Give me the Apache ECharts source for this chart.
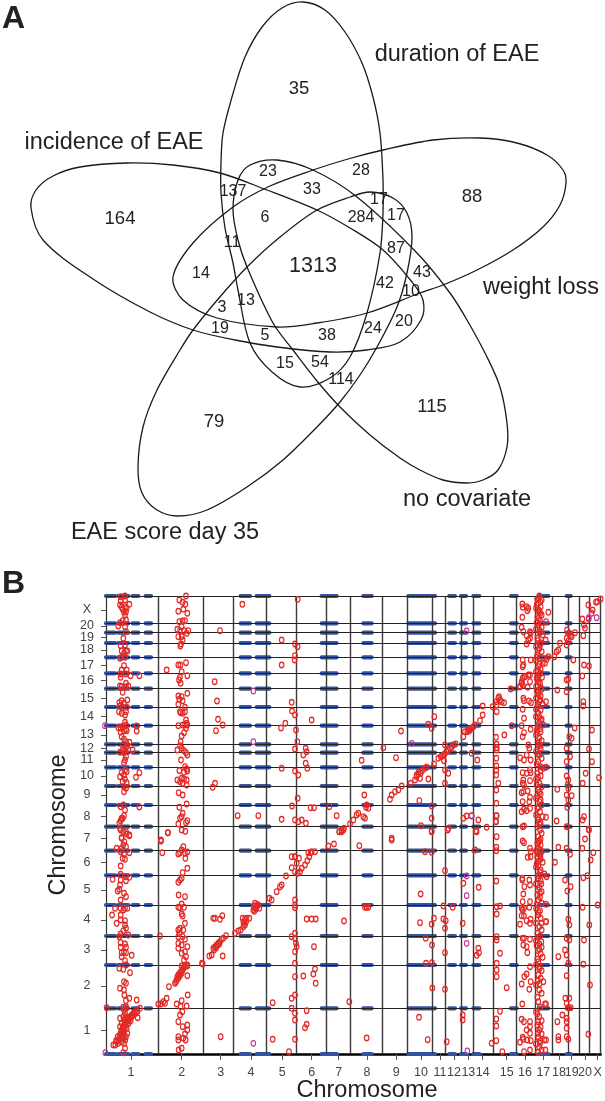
<!DOCTYPE html>
<html><head><meta charset="utf-8">
<style>html,body{margin:0;padding:0;background:#fff}#c{width:605px;height:1101px}</style>
<script src="https://cdn.jsdelivr.net/npm/echarts@6/dist/echarts.min.js"></script></head>
<body><div id="c"></div>
<script>
// Panel A: outlines of the five sets
const durationOutline = [[303,2],[325,10],[345,32],[362,63],[373,97],[380,133],[383,180],[383,213],[380,253],[367,313],[350,357],[330,378],[300,387],[272,372],[250,343],[238,290],[233,263],[225,228],[221,193],[221,163],[223,133],[232,97],[245,57],[262,27],[282,8]];
const incidenceOutline = [[31,208],[36,190],[53,176],[80,167],[127,163],[173,165],[220,173],[267,190],[317,210],[350,228],[383,250],[412,282],[423,300],[421,320],[400,342],[367,350],[330,352],[277,347],[235,340],[193,330],[150,312],[93,279],[43,240]];
const covariateOutline = [[277,160],[313,170],[357,197],[417,253],[450,293],[467,320],[487,357],[500,387],[507,423],[507,447],[498,470],[483,480],[467,483],[443,480],[420,470],[400,458],[370,435],[340,407],[317,381],[293,350],[273,323],[247,267],[238,240],[233,210],[238,180],[250,165]];
const weightOutline = [[480,138],[517,143],[547,155],[563,170],[566,183],[560,205],[543,227],[513,250],[477,270],[443,285],[420,293],[367,313],[317,323],[277,327],[217,318],[183,300],[173,277],[193,243],[233,207],[270,186],[313,170],[348,159],[383,150],[433,140]];
const scoreOutline = [[370,192],[393,198],[407,213],[412,237],[407,273],[397,307],[377,347],[360,375],[340,402],[317,427],[283,460],[247,487],[207,510],[178,516],[157,510],[142,493],[138,467],[143,427],[157,390],[180,350],[193,330],[219,298],[247,267],[280,237],[317,210],[350,197]];
const vennOutlines = [durationOutline,incidenceOutline,covariateOutline,weightOutline,scoreOutline];

const vennOuterCounts = [[299,89,'35'],[472,197,'88'],[120,219,'164'],[432,407,'115'],[214,422,'79']];
const vennInnerCounts = [
 [361,171,'28'],[268,172,'23'],[312,190,'33'],[233,192,'137'],
 [265,218,'6'],[379,200,'17'],[361,218,'284'],[396,216,'17'],[232,243,'11'],[201,274,'14'],[396,249,'87'],
 [422,273,'43'],[385,284,'42'],[411,292,'10'],[222,308,'3'],[246,301,'13'],[220,329,'19'],[265,336,'5'],
 [327,336,'38'],[373,329,'24'],[404,322,'20'],[285,364,'15'],[320,363,'54'],[341,380,'114']
];
const vennCentre = [[313,266,'1313']];
const vennNames = [[457,55,'duration of EAE'],[114,143,'incidence of EAE'],[541,288,'weight loss'],[467,500,'no covariate'],[165,533,'EAE score day 35']];

// Panel B: genome position axes
const xBoundaries = [157,291,382,482,572,662,732,828,905,978,1019,1065,1103,1161,1232,1287,1340,1386,1420,1450,1484];
const yBoundaries = [137,267,354,447,536,610,682,747,804,860,904,929,985,1041,1096,1142,1190,1233,1264,1292,1374];
const chromNames = ['1','2','3','4','5','6','7','8','9','10','11','12','13','14','15','16','17','18','19','20','X'];
const xChromTicks = [75,227,344,435,529,617,698,783,871,945,1002,1044,1087,1130,1202,1257,1312,1359,1397,1437,1475];
const yChromTicks = [70,204,312,402,492,574,647,712,777,834,882,916,957,1012,1067,1120,1165,1212,1250,1284,1332];
const markerBands = [[0,27],[37,67],[80,97],[119,135],[404,432],[452,490],[647,692],[772,797],[907,987],[1030,1047],[1065,1080],[1102,1120],[1215,1232],[1299,1327],[1382,1394]];

const column1Upper = [[44,1372],[57,1374],[44,1360],[57,1362],[70,1349],[42,1347],[47,1340],[57,1342],[50,1334],[62,1337],[54,1325],[60,1327],[57,1317],[50,1300],[60,1302],[42,1294],[37,1284],[57,1282],[60,1267],[52,1247],[44,1225],[57,1227],[47,1209],[60,1209],[64,1209],[54,1202],[47,1190],[57,1190],[42,1187],[54,1165],[47,1152],[62,1152],[44,1140],[60,1140],[44,1130],[74,1135],[100,1135],[60,1112],[42,1104],[47,1102],[60,1102],[67,1104],[50,1085],[64,1062],[47,1060],[40,1054],[54,1052],[42,1044],[50,1040],[62,1040],[39,1027],[47,1022],[60,1027],[57,1017],[57,995],[60,987],[50,982],[37,979],[44,977],[60,974],[54,970],[62,970],[44,965],[47,952],[92,984],[92,969],[54,944],[60,937],[70,935],[52,927],[62,922],[50,912],[57,912],[67,914],[80,912],[42,905],[54,904],[57,882],[54,874],[60,892],[57,852],[47,844],[62,847],[100,844],[54,837],[42,832],[90,830],[57,824],[50,817],[62,814],[54,802],[60,797],[54,787],[52,747],[100,741],[44,742],[57,732],[54,715],[47,707],[44,700],[40,692],[50,707],[42,677],[52,667],[62,660],[70,655],[47,649]];
const column1Lower = [[44,672],[60,667],[70,657],[47,647],[55,637],[52,627],[32,617],[47,617],[60,622],[44,607],[54,600],[70,604],[57,584],[50,587],[44,564],[20,524],[44,539],[60,532],[70,530],[44,522],[60,520],[42,507],[35,489],[40,494],[54,482],[60,472],[44,462],[27,437],[44,437],[57,437],[64,437],[52,432],[18,417],[44,417],[32,392],[44,402],[57,400],[57,387],[60,377],[52,370],[44,360],[40,352],[67,357],[44,334],[57,330],[44,320],[60,320],[47,304],[54,307],[60,304],[47,292],[77,296],[57,280],[60,267],[40,257],[52,254],[72,244],[54,217],[60,212],[42,197],[54,192],[55,177],[70,167],[60,160],[52,140],[60,137],[2,139],[92,162],
 [22,27],[28,27],[32,37],[37,42],[40,50],[44,62],[37,32],[47,72],[52,82],[57,92],[62,102],[67,107],[72,112],[77,117],[82,122],[87,127],[94,127],[102,137],[95,109],[42,107],[57,122],[60,112],[52,52],[60,52],[64,62],[54,67],[54,32],[57,17],[52,4],[50,47],[47,37],[42,82],[54,102],[62,87],[54,132],[60,142],
 [30,40],[35,52],[42,57],[48,65],[50,77],[55,87],[60,97],[65,100],[70,105],[75,110],[80,115],[85,120],[90,122],[56,72],[62,77],[47,92],[52,112],[68,92],[74,100],[50,60],[58,42],[48,54]];
const column2Upper = [[240,1374],[220,1362],[230,1355],[238,1349],[232,1334],[217,1328],[244,1322],[230,1299],[220,1297],[237,1300],[227,1282],[214,1274],[222,1270],[234,1270],[247,1270],[242,1262],[217,1252],[227,1252],[230,1242],[225,1230],[223,1224],[240,1174],[217,1167],[223,1167],[227,1147],[244,1135],[222,1130],[219,1122],[224,1112],[182,1152],[244,1082],[217,1074],[227,1072],[220,1064],[217,1049],[230,1060],[237,1040],[222,1027],[237,1027],[224,1024],[230,1022],[240,1002],[242,992],[217,985],[230,987],[237,987],[244,987],[240,977],[234,964],[227,954],[224,937],[222,925],[214,912],[227,917],[234,910],[240,904],[244,897],[225,882],[237,862],[242,855],[220,850],[244,849],[234,845],[214,822],[227,827],[234,825],[242,822],[222,817],[230,812],[242,807],[218,784],[230,777],[242,750],[220,740],[230,722],[227,712],[222,707],[244,700],[240,694],[217,690],[227,672],[238,668]];
const column2Lower = [[232,622],[227,612],[237,602],[244,606],[222,604],[217,600],[238,587],[244,557],[230,544],[227,527],[222,522],[217,515],[218,477],[237,472],[227,450],[217,440],[222,439],[234,440],[227,420],[230,414],[237,392],[222,377],[217,372],[232,372],[220,362],[217,352],[230,352],[237,344],[217,332],[227,327],[244,322],[217,317],[237,307],[227,302],[240,292],[234,282],[244,267],[207,212],[212,222],[217,227],[222,235],[227,242],[217,237],[230,252],[227,264],[237,264],[244,264],[244,235],[189,202],[245,177],[182,167],[172,157],[165,150],[157,150],[177,152],[212,150],[227,160],[242,144],[224,142],[229,127],[222,117],[217,97],[244,87],[230,82],[244,72],[237,60],[217,52],[232,47],[239,42],[217,42],[227,17],[218,12],[288,272],[290,270],[210,217],[214,232],[220,240],[224,247],[232,258],[236,262]];
const earlyChromUpper = [[342,1270],[326,1117],[333,1059],[336,1004],[350,987],[330,970],[327,812],[320,800],[409,1349],[395,715],[457,715],[527,1242],[567,1230],[575,1222],[567,1195],[566,1182],[527,1167],[557,1055],[558,1029],[567,1017],[538,992],[525,978],[570,972],[527,857],[567,849],[577,837],[574,937],[567,915],[575,767],[558,744],[527,704],[567,702],[577,697],[575,1364],[186,664],[165,642]];
const earlyChromLower = [[165,639],[185,664],[169,604],[162,354],[500,154],[500,44],[344,52],[549,7],[567,44],[557,592],[540,534],[527,507],[522,502],[512,487],[490,467],[497,462],[567,592],
 [310,294],[317,297],[322,317],[327,322],[332,327],[337,332],[342,337],[347,344],[352,347],[360,355],[350,294],[322,407],[327,407],[342,404],[349,415],[324,312],[330,318],[335,326],[340,330],
 [387,362],[397,369],[404,372],[412,382],[417,387],[420,397],[422,407],[430,407],[410,407],[417,404],[442,432],[447,437],[444,444],[452,442],[457,447],[460,437],[447,452],[454,447],[445,428],[450,436],[415,392],[412,396],
 [567,592],[572,572],[557,559],[567,547],[575,542],[579,587],[567,462],[567,447],[567,439],[557,352],[567,362],[567,347],[570,332],[567,307],[572,322],[567,272],[567,232],[567,177],[557,167],[557,137],[567,122],[567,102]];
const diagonalUpper = [[852,764],[857,777],[867,787],[877,792],[887,804],[914,812],[927,822],[932,832],[937,840],[944,842],[957,857],[962,860],[942,827],[967,825],[984,870],[997,887],[1004,892],[1012,897],[1022,907],[1032,917],[1042,927],[1049,930],[1017,927],[1014,880],[1097,902],[1114,882],[1017,852],[1027,842],[1017,812],[1072,952],[1077,967],[1087,972],[1097,977],[1107,987],[1122,1000],[1130,1017],[832,919],[870,889],[767,881],[599,917],[602,907],[592,897],[599,872],[604,857],[617,1002],[885,969],[967,989],[977,977],[985,1012],[1217,985],
 [932,837],[938,846],[948,850],[1008,893],[1016,900],[1027,912],[1037,920],[1084,967],[1092,975],[1102,982],[1090,970],
 [700,667],[707,667],[714,677],[732,690],[742,702],[752,717],[757,722],[772,712],[777,707],[782,747],[787,737],[780,740],[775,777],[670,742],[614,739],[624,739],[692,715],[587,702],[600,692],[945,685],[940,760],[977,744],[977,707],[977,669],[1027,677],[1109,669],[1142,680],[1072,707],[1082,714],[1097,715],[1117,702],[1172,715],[1170,697],[857,647]];
const diagonalLower = [[582,547],[587,557],[597,567],[604,580],[610,592],[614,604],[607,604],[617,607],[627,607],[667,624],[684,630],[760,625],[857,642],[707,672],[700,667],[712,672],[977,667],[1112,667],[1025,672],
 [957,607],[977,605],[1107,612],[1171,620],[1171,610],[1250,639],[1254,634],[1272,617],[1274,607],[1274,592],[1265,590],[1357,620],[1382,617],[1392,599],[1429,617],[1462,604],[1454,582],[1437,645],[1449,672],
 [1347,575],[1017,550],[1072,512],[1118,500],[1171,519],[944,480],[1432,529],[1444,535],[1394,502],[1377,522],[1384,489],
 [1012,444],[1040,440],[1182,444],[1172,442],[1172,420],[782,440],[777,440],[787,440],[602,405],[617,405],[629,405],[714,399],[942,394],[984,407],[977,389],[1012,405],[1019,400],[1017,377],[1070,392],[1430,440],[1475,447],
 [624,322],[959,347],[978,327],[1017,304],[1117,317],[1119,304],[1112,296],[1182,302],[1172,352],[1172,342],[960,272],[978,274],[1172,272],[1172,252],[1172,232],[1202,199],[627,255],[622,240],[592,234],[629,212],[979,198],[1017,194],[730,157],[602,130],[602,89],[597,79],[939,110],[1070,117],[1070,102],[1182,128],[1171,105],[1171,84],[782,48],[965,43],[1022,37],[1157,32],[1171,40],[1189,7]];
const laterColumnsUpper = [[1249,1350],[1250,1340],[1262,1342],[1267,1337],[1264,1330],[1249,1310],[1327,1325],[1247,1280],[1252,1267],[1272,1267],[1262,1255],[1272,1247],[1267,1242],[1262,1230],[1274,1262],[1250,1182],[1252,1167],[1250,1162],[1274,1182],[1267,1137],[1272,1137],[1254,1132],[1247,1117],[1242,1102],[1250,1107],[1272,1117],[1265,1100],[1252,1067],[1254,1060],[1269,1059],[1275,1054],[1250,1034],[1254,1007],[1247,985],[1254,964],[1274,974],[1250,952],[1267,927],[1270,917],[1262,897],[1242,889],[1254,882],[1274,882],[1250,844],[1272,852],[1274,844],[1262,842],[1252,822],[1272,820],[1250,812],[1254,807],[1247,784],[1252,787],[1265,789],[1272,770],[1270,757],[1250,757],[1247,727],[1254,734],[1272,737],[1262,730],[1250,682],[1254,684],
 [1214,1095],[1242,1102],[1247,1112],[1250,1127],[1257,1132],[1160,1042],[1172,1047],[1177,1067],[1182,1062],[1172,1057],[1187,1057],[1179,1072],[1194,1054],[1172,1027],[1130,1044],
 [1170,950],[1195,957],[1172,929],[1172,919],[1172,912],[1171,887],[1171,864],[1171,852],[1171,837],[1177,812],[1171,792],[1171,752],[1171,715],[1170,697],[1172,652],
 [1354,1092],[1382,1087],[1387,1124],[1382,1122],[1383,1272],[1390,1262],[1394,1257],[1382,1247],[1397,1252],[1407,1264],[1387,1240],[1382,1227],[1362,1232],[1357,1212],[1352,1207],[1345,1192],[1327,1192],[1322,1184],[1317,1172],[1402,1182],[1434,1167],[1449,1164],[1429,1134],[1432,1057],[1432,1044],[1406,978],[1458,972],[1390,952],[1397,947],[1382,917],[1449,915],[1392,892],[1382,877],[1458,877],[1439,842],[1479,829],[1382,834],[1387,822],[1385,807],[1430,812],[1354,794],[1387,797],[1382,777],[1397,775],[1387,762],[1384,740],[1434,712],[1430,702],[1352,699],[1382,682],[1448,674],
 [1429,1305],[1434,1287],[1437,1277],[1432,1255],[1448,1305],[1457,1322],[1460,1332],[1470,1355],[1474,1357],[1484,1365],[1447,1347]];
const chrom17 = [[1300,1374],[1294,1364],[1307,1362],[1297,1352],[1304,1342],[1290,1337],[1300,1327],[1307,1317],[1294,1312],[1302,1302],[1320,1297],[1297,1287],[1307,1280],[1290,1274],[1302,1264],[1310,1257],[1294,1247],[1319,1242],[1304,1234],[1290,1222],[1300,1217],[1307,1207],[1294,1197],[1302,1187],[1290,1180],[1310,1172],[1297,1162],[1304,1154],[1290,1147],[1300,1137],[1308,1130],[1294,1122],[1302,1112],[1290,1102],[1307,1094],[1297,1084],[1304,1074],[1290,1067],[1300,1057],[1310,1049],[1294,1042],[1304,1032],[1320,1057],[1297,1022],[1290,1012],[1307,1004],[1300,994],[1312,987],[1294,977],[1304,967],[1290,957],[1300,947],[1307,940],[1297,927],[1304,917],[1290,907],[1300,897],[1307,887],[1297,877],[1304,862],[1312,857],[1320,860],[1294,842],[1304,834],[1290,824],[1300,812],[1307,802],[1297,792],[1304,780],[1290,767],[1300,757],[1307,747],[1294,737],[1302,727],[1290,717],[1310,712],[1320,710],[1297,702],[1304,694],[1294,682],[1302,672],[1307,662],[1297,652],[1304,644],
 [1298,1368],[1303,1356],[1292,1347],[1298,1332],[1303,1322],[1298,1307],[1292,1294],[1300,1272],[1296,1240],[1303,1228],[1296,1212],[1292,1190],[1300,1170],[1296,1150],[1303,1142],[1292,1128],[1298,1118],[1304,1100],[1292,1090],[1298,1078],[1303,1062],[1296,1050],[1290,1034],[1300,1012],[1305,1000],[1296,985],[1302,975],[1292,965],[1298,935],[1302,925],[1296,900],[1292,870],[1304,850],[1296,830],[1292,808],[1300,785],[1294,775],[1304,762],[1298,740],[1296,710],[1300,690],
 [1300,640],[1294,632],[1304,627],[1297,617],[1290,610],[1307,607],[1300,600],[1294,590],[1304,585],[1310,575],[1297,565],[1290,560],[1304,552],[1315,540],[1322,532],[1297,527],[1304,520],[1290,510],[1300,500],[1307,487],[1294,477],[1302,470],[1297,462],[1307,452],[1320,449],[1290,437],[1302,430],[1297,417],[1304,407],[1320,397],[1290,392],[1300,382],[1307,372],[1294,362],[1302,354],[1290,340],[1300,330],[1307,320],[1296,310],[1304,300],[1310,290],[1297,277],[1290,267],[1302,260],[1307,250],[1297,237],[1304,227],[1312,217],[1290,207],[1300,192],[1307,182],[1294,170],[1297,157],[1320,150],[1302,140],[1290,127],[1300,112],[1307,100],[1294,87],[1300,72],[1307,60],[1297,50],[1302,40],[1290,30],[1315,42],[1300,20],[1307,12],[1296,5],[1318,12],
 [1298,635],[1302,612],[1294,602],[1303,595],[1298,578],[1292,570],[1302,545],[1296,535],[1306,510],[1296,492],[1302,482],[1292,447],[1298,425],[1306,392],[1296,350],[1292,325],[1306,337],[1300,315],[1294,285],[1300,255],[1296,220],[1300,210],[1294,120],[1296,97],[1304,80],[1296,62],[1302,32]];
const rightColumnsLower = [[1249,527],[1249,522],[1270,522],[1272,507],[1255,502],[1252,480],[1250,457],[1272,457],[1247,437],[1254,437],[1250,432],[1270,440],[1247,415],[1254,414],[1262,400],[1274,404],[1272,392],[1242,389],[1250,347],[1254,347],[1272,344],[1262,322],[1264,304],[1252,327],[1272,262],[1255,232],[1262,240],[1247,210],[1274,217],[1270,194],[1249,150],
 [1247,104],[1254,97],[1272,97],[1272,82],[1262,72],[1272,62],[1250,50],[1242,35],[1252,44],[1264,42],[1274,40],[1254,7],[1272,12],
 [1387,404],[1390,387],[1382,347],[1390,342],[1377,312],[1382,297],[1357,292],[1387,272],[1382,235],[1378,167],[1390,167],[1382,152],[1387,139],[1394,139],[1369,117],[1354,97],[1382,107],[1382,97],[1382,77],[1357,52],[1357,42],[1382,52],[1387,44],[1434,342],[1432,269],[1452,207],[1450,387],[1447,59],[1317,150],[1320,397],[1320,42]];
const overlapMarkers = [[-3,985],[442,1089],[442,937],[-2,4],[442,32],[1082,1269],[1097,714],[1082,534],[1082,475],[1082,332],[1084,9],[1448,1309],[1472,1309],[917,932]];

const allMarkers = [].concat(column1Upper,column1Lower,column2Upper,column2Lower,earlyChromUpper,earlyChromLower,diagonalUpper,diagonalLower,laterColumnsUpper,chrom17,rightColumnsLower);

const bandData = [];
yBoundaries.concat([0]).forEach(y=>markerBands.forEach(b=>{bandData.push([b[0],y],[b[1],y],[null,null]);}));

const font='"Liberation Sans",Arial,sans-serif';
const chart = echarts.init(document.getElementById('c'),null,{renderer:'canvas'});
const vennLabel = (size)=>({show:true,position:'inside',formatter:p=>p.value[2],fontFamily:font,fontSize:size,color:'#222'});
const textSeries = (data,size)=>({type:'scatter',xAxisIndex:0,yAxisIndex:0,symbolSize:0,data,label:vennLabel(size),silent:true,itemStyle:{opacity:1},z:4});
chart.setOption({
 animation:false,
 backgroundColor:'#fff',
 grid:[
  {left:0,top:0,width:605,height:570,show:false},
  {left:106,top:596,width:494.67,height:458,show:false}
 ],
 xAxis:[
  {gridIndex:0,type:'value',min:0,max:605,show:false},
  {gridIndex:1,type:'value',min:0,max:1484,
   axisLine:{show:true,onZero:false,lineStyle:{color:'#000',width:2.5}},
   splitLine:{show:false},
   axisTick:{show:true,length:6,customValues:xChromTicks,lineStyle:{color:'#555',width:1}},
   axisLabel:{customValues:xChromTicks,margin:12,fontFamily:font,fontSize:12.5,color:'#444',
     formatter:v=>chromNames[xChromTicks.indexOf(v)]}}
 ],
 yAxis:[
  {gridIndex:0,type:'value',min:0,max:570,inverse:true,show:false},
  {gridIndex:1,type:'value',min:0,max:1374,
   axisLine:{show:true,onZero:false,lineStyle:{color:'#333',width:1.2}},
   splitLine:{show:false},
   axisTick:{show:true,length:5,customValues:yChromTicks,lineStyle:{color:'#555',width:1}},
   axisLabel:{customValues:yChromTicks,margin:19,align:'center',fontFamily:font,fontSize:12.5,color:'#444',
     formatter:v=>chromNames[yChromTicks.indexOf(v)]}}
 ],
 series:[
  {type:'custom',xAxisIndex:0,yAxisIndex:0,data:vennOutlines.map((o,i)=>[i]),silent:true,clip:false,
   renderItem:(params,api)=>({type:'polygon',
     shape:{points:vennOutlines[params.dataIndex].map(p=>api.coord(p)),smooth:0.33},
     style:{fill:'none',stroke:'#1a1a1a',lineWidth:1.3}})},
  textSeries(vennOuterCounts,18.5),
  textSeries(vennInnerCounts,16),
  textSeries(vennCentre,21.5),
  textSeries(vennNames,23.5),
  {type:'line',xAxisIndex:1,yAxisIndex:1,data:bandData,showSymbol:false,connectNulls:false,silent:true,z:2,
   lineStyle:{color:'#3553a3',width:4.2,cap:'round'}},
  {type:'scatter',xAxisIndex:1,yAxisIndex:1,data:[],silent:true,z:3,
   markLine:{silent:true,symbol:'none',animation:false,label:{show:false},
    data:xBoundaries.map(v=>({xAxis:v,lineStyle:{color:'#3a3a3a',width:1.4,type:'solid'}}))
     .concat(yBoundaries.map(v=>({yAxis:v,lineStyle:{color:'#222',width:1.2,type:'solid'}})))}},
  {type:'scatter',xAxisIndex:1,yAxisIndex:1,data:allMarkers,symbol:'circle',symbolSize:[4.6,5.6],z:5,silent:true,clip:false,
   itemStyle:{color:'rgba(0,0,0,0)',borderColor:'#e22a27',borderWidth:1.25,opacity:1}},
  {type:'scatter',xAxisIndex:1,yAxisIndex:1,data:overlapMarkers,symbol:'circle',symbolSize:[4.6,5.6],z:6,silent:true,clip:false,
   itemStyle:{color:'rgba(0,0,0,0)',borderColor:'#c0309a',borderWidth:1.1,opacity:1}}
 ],
 graphic:[
  {type:'text',left:2,top:3,style:{text:'A',fontFamily:font,fontSize:32,fontWeight:'bold',fill:'#222'}},
  {type:'text',left:2,top:568,style:{text:'B',fontFamily:font,fontSize:32,fontWeight:'bold',fill:'#222'}},
  {type:'text',x:367,y:1091,style:{text:'Chromosome',fontFamily:font,fontSize:23.5,fill:'#222',align:'center',verticalAlign:'middle'}},
  {type:'text',x:59,y:825,rotation:Math.PI/2,style:{text:'Chromosome',fontFamily:font,fontSize:23.5,fill:'#222',align:'center',verticalAlign:'middle'}}
 ]
});
</script></body></html>
